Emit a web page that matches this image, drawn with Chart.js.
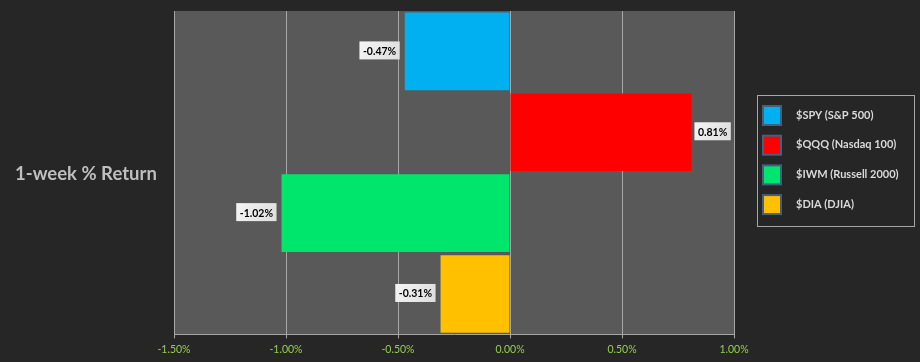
<!DOCTYPE html>
<html>
<head>
<meta charset="utf-8">
<script src="https://cdn.jsdelivr.net/npm/chart.js@4"></script>
<style>
  html, body { margin: 0; padding: 0; background: #262626; }
  #wrap { width: 920px; height: 362px; }
</style>
</head>
<body>
<div id="wrap"><canvas id="returnChart" width="920" height="362"></canvas></div>
<script>
'use strict';

// chart data
const categories = ['$SPY (S&P 500)', '$QQQ (Nasdaq 100)', '$IWM (Russell 2000)', '$DIA (DJIA)'];
const weeklyReturns = [-0.47, 0.81, -1.02, -0.31];
const barColors = ['#00b0f0', '#ff0000', '#00e66c', '#ffc000'];
const xTicks = [-1.5, -1.0, -0.5, 0, 0.5, 1.0];
const chartTitle = '1-week % Return';

/**
 * value labels in small light boxes beside each bar
 */
const valueLabels = {
  id: 'valueLabels',
  afterDatasetsDraw(chart) {
    const ctx = chart.ctx;
    const meta = chart.getDatasetMeta(0);
    ctx.save();
    ctx.font = 'bold 10.5px Lato, "Open Sans", sans-serif';
    ctx.textBaseline = 'middle';
    meta.data.forEach(function (bar, i) {
      const v = weeklyReturns[i];
      const text = v.toFixed(2) + '%';
      const w = ctx.measureText(text).width + 7;
      const h = 18;
      const x = v < 0 ? bar.x - 5 - w : bar.x + 3;
      const y = bar.y - h / 2 - 1;
      const grad = ctx.createLinearGradient(x, y, x + w, y + h);
      grad.addColorStop(0, '#f4f4f4');
      grad.addColorStop(1, '#dedede');
      ctx.fillStyle = grad;
      ctx.fillRect(x, y, w, h);
      ctx.fillStyle = '#000000';
      ctx.textAlign = 'center';
      ctx.fillText(text, x + w / 2, y + h / 2 + 1);
    });
    ctx.restore();
  }
};

/**
 * plot background, side title and boxed legend
 */
const decorations = {
  id: 'decorations',
  beforeDraw(chart) {
    const ctx = chart.ctx;
    const a = chart.chartArea;
    ctx.save();
    ctx.fillStyle = '#262626';
    ctx.fillRect(0, 0, chart.width, chart.height);
    ctx.fillStyle = '#595959';
    ctx.fillRect(a.left, a.top, a.right - a.left, a.bottom - a.top);
    ctx.restore();
  },
  afterDraw(chart) {
    const ctx = chart.ctx;
    ctx.save();
    // title on the left
    ctx.font = 'bold 18.5px Lato, "Open Sans", sans-serif';
    ctx.fillStyle = '#bfbfbf';
    ctx.textBaseline = 'middle';
    ctx.textAlign = 'left';
    ctx.fillText(chartTitle, 15, 174);

    // legend box
    const lx = 757, ly = 95, lw = 158, lh = 132;
    ctx.fillStyle = '#262626';
    ctx.fillRect(lx, ly, lw, lh);
    ctx.strokeStyle = '#a6a6a6';
    ctx.lineWidth = 1;
    ctx.strokeRect(lx + 0.5, ly + 0.5, lw - 1, lh - 1);

    ctx.font = 'bold 11px Lato, "Open Sans", sans-serif';
    categories.forEach(function (name, i) {
      const cy = 115 + i * 29.7;
      ctx.fillStyle = barColors[i];
      ctx.fillRect(763, cy - 9, 18, 19);
      ctx.strokeStyle = '#44607e';
      ctx.lineWidth = 2;
      ctx.strokeRect(763, cy - 9, 18, 19);
      ctx.fillStyle = '#d9d9d9';
      ctx.fillText(name, 796, cy);
    });
    ctx.restore();
  }
};

const ctx = document.getElementById('returnChart').getContext('2d');
const returnChart = new Chart(ctx, {
  type: 'bar',
  data: {
    labels: categories,
    datasets: [{
      label: chartTitle,
      data: weeklyReturns,
      backgroundColor: barColors,
      borderWidth: 0,
      barPercentage: 0.96,
      categoryPercentage: 1.0
    }]
  },
  options: {
    indexAxis: 'y',
    responsive: false,
    animation: false,
    devicePixelRatio: 1,
    layout: {
      padding: { left: 166, right: 186, top: 11, bottom: 1 }
    },
    plugins: {
      legend: { display: false },
      tooltip: { enabled: false },
      title: { display: false }
    },
    scales: {
      x: {
        min: -1.5,
        max: 1.0,
        afterBuildTicks: function (scale) {
          scale.ticks = xTicks.map(function (v) { return { value: v }; });
        },
        grid: {
          color: '#a6a6a6',
          lineWidth: 1,
          tickLength: 4,
          tickColor: '#a6a6a6',
          drawOnChartArea: true
        },
        border: { display: true, color: '#a6a6a6' },
        ticks: {
          color: '#92d050',
          font: { family: 'Lato, "Open Sans", sans-serif', size: 10.5 },
          padding: 5,
          maxRotation: 0,
          callback: function (value) {
            return value.toFixed(2) + '%';
          }
        }
      },
      y: {
        grid: { display: false },
        border: { display: false },
        ticks: { display: false }
      }
    }
  },
  plugins: [decorations, valueLabels]
});
</script>
</body>
</html>
